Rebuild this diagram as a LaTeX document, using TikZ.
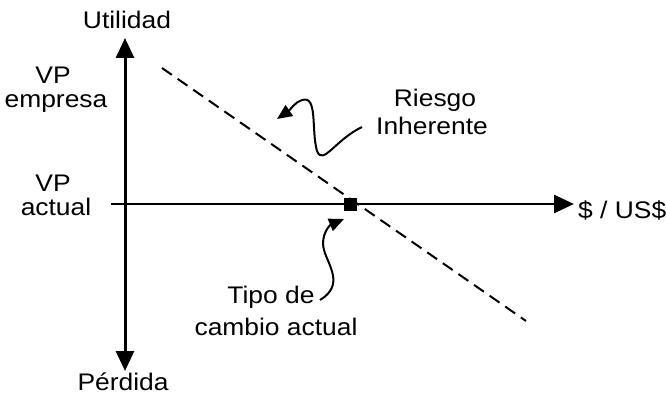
\documentclass[tikz,border=0pt]{standalone}
\usepackage{fontspec}
\setmainfont[FakeStretch=1.1]{Liberation Sans}
\usetikzlibrary{arrows.meta}
\begin{document}
\begin{tikzpicture}[x=1pt,y=-1pt,
  lbl/.style={font=\fontsize{24}{24}\selectfont, inner sep=0pt, anchor=base},
  axis/.style={line width=3pt, -{Triangle[length=20pt,width=18pt]}},
  pointer/.style={line width=2pt, -{Triangle[length=15pt,width=13pt]}},
  riskline/.style={line width=2pt, dash pattern=on 12pt off 7pt}]
\useasboundingbox (0,0) rectangle (666,398);
% axes
\coordinate (yb) at (125,203);
\coordinate (ytop) at (125,38);
\coordinate (ybot) at (125,371);
\coordinate (xl) at (111,204);
\coordinate (xr) at (574,204);
\draw[axis] (yb) -- (ytop);
\draw[axis] (yb) -- (ybot);
\draw[axis, line width=2.5pt] (xl) -- (xr);
% labels
\node[lbl] (util) at (127,29) {Utilidad};
\node[lbl] (perd) at (123,390) {Pérdida};
\node[lbl] (vp1) at (53,84) {VP};
\node[lbl] (emp) at (56,108) {empresa};
\node[lbl] (vp2) at (53,192) {VP};
\node[lbl] (act) at (56,215) {actual};
\node[lbl, anchor=base west] (usd) at (578,218) {\$ / US\$};
\node[lbl] (riesgo) at (435,107) {Riesgo};
\node[lbl] (inher) at (432,135) {Inherente};
\node[lbl] (tipo) at (271,303) {Tipo de};
\node[lbl] (cambio) at (276,335) {cambio actual};
% risk line
\coordinate (r1) at (162,68);
\coordinate (r2) at (526,321);
\draw[riskline] (r1) -- (r2);
% current point
\node[fill=black, minimum size=13pt, inner sep=0pt] (pt) at (350,204) {};
% pointer arrows
\coordinate (ra) at (362,127);
\coordinate (rb) at (277,119);
\draw[pointer] (ra) .. controls (335,140) and (323,166) .. (317,151)
  .. controls (311,130) and (318,95) .. (302,100)
  .. controls (295,102) and (290,110) .. (rb);
\coordinate (ta) at (320,300);
\coordinate (tb) at (344,219);
\draw[pointer] (ta) .. controls (345,285) and (328,265) .. (324,250)
  .. controls (320,235) and (330,225) .. (tb);
\end{tikzpicture}
\end{document}
